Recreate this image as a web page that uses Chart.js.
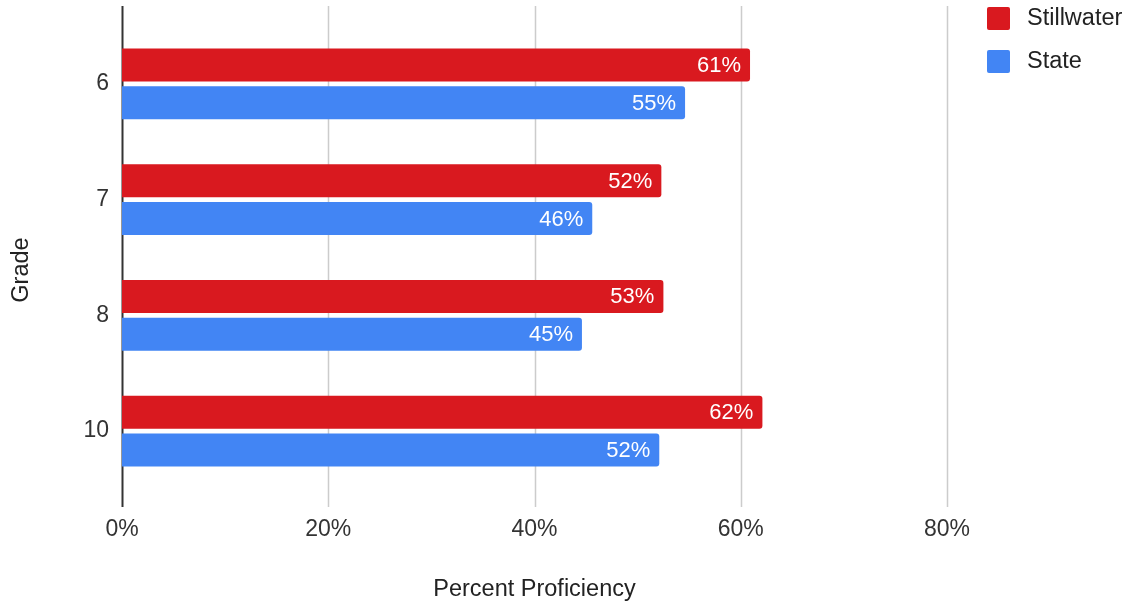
<!DOCTYPE html>
<html>
<head>
<meta charset="utf-8">
<script src="https://cdn.jsdelivr.net/npm/chart.js@4"></script>
<style>
  html, body { margin: 0; padding: 0; background: #fff; }
  #wrap { width: 1133px; height: 606px; }
</style>
</head>
<body>
<div id="wrap"><canvas id="gradeChart"></canvas></div>
<script>
const grades = ["6", "7", "8", "10"];
const stillwater = [60.9, 52.3, 52.5, 62.1];
const state = [54.6, 45.6, 44.6, 52.1];
const xTicks = [0, 20, 40, 60, 80];

const FONT = "'Liberation Sans', Arial, sans-serif";

// grid lines run a bit past the bars, like the original
const gridPlugin = {
    id: "gridPlugin",
    beforeDatasetsDraw(chart){
        const ctx = chart.ctx;
        const x = chart.scales.x;
        const area = chart.chartArea;
        ctx.save();
        xTicks.forEach(t => {
            const px = Math.round(x.getPixelForValue(t)) + 0.5;
            ctx.beginPath();
            ctx.lineWidth = t === 0 ? 2 : 1.5;
            ctx.strokeStyle = t === 0 ? "#333333" : "#cccccc";
            ctx.moveTo(px, area.top - 20);
            ctx.lineTo(px, area.bottom + 18);
            ctx.stroke();
        });
        ctx.restore();
    }
};

const valueLabels = {
    id: "valueLabels",
    afterDatasetsDraw(chart){
        const ctx = chart.ctx;
        ctx.save();
        ctx.font = "22px " + FONT;
        ctx.fillStyle = "#ffffff";
        ctx.textAlign = "right";
        ctx.textBaseline = "middle";
        chart.data.datasets.forEach((ds, i) => {
            chart.getDatasetMeta(i).data.forEach((bar, j) => {
                ctx.fillText(Math.round(ds.data[j]) + "%", bar.x - 9, bar.y + 1);
            });
        });
        ctx.restore();
    }
};

// legend on the right and the "Grade" title, placed by hand
const sideText = {
    id: "sideText",
    afterDraw(chart){
        const ctx = chart.ctx;
        ctx.save();
        ctx.font = "23.5px " + FONT;
        ctx.textBaseline = "middle";
        chart.data.datasets.forEach((ds, i) => {
            const top = 7 + i * 43;
            ctx.fillStyle = ds.backgroundColor;
            ctx.beginPath();
            ctx.roundRect(987, top, 23, 23, 2);
            ctx.fill();
            ctx.fillStyle = "#222222";
            ctx.fillText(ds.label, 1027, top + 12);
        });

        ctx.translate(22, 270);
        ctx.rotate(-Math.PI / 2);
        ctx.textAlign = "center";
        ctx.fillStyle = "#222222";
        ctx.fillText("Grade", 0, 0);
        ctx.restore();
    }
};

new Chart(document.getElementById("gradeChart"), {
    type: "bar",
    data: {
        labels: grades,
        datasets: [
            {
                label: "Stillwater",
                data: stillwater,
                backgroundColor: "#d9191f",
                borderRadius: 3,
                borderSkipped: "start",
                categoryPercentage: 0.655,
                barPercentage: 0.87
            },
            {
                label: "State",
                data: state,
                backgroundColor: "#4285f4",
                borderRadius: 3,
                borderSkipped: "start",
                categoryPercentage: 0.655,
                barPercentage: 0.87
            }
        ]
    },
    options: {
        indexAxis: "y",
        responsive: true,
        maintainAspectRatio: false,
        animation: false,
        layout: { padding: { top: 26, right: 186, left: 0, bottom: 0 } },
        plugins: {
            legend: { display: false },
            tooltip: { enabled: false }
        },
        scales: {
            x: {
                min: 0,
                max: 80,
                afterBuildTicks: s => { s.ticks = xTicks.map(v => ({ value: v })); },
                afterFit: s => { s.height = 117; },
                grid: { display: false },
                border: { display: false },
                ticks: {
                    padding: 19,
                    color: "#333333",
                    font: { family: FONT, size: 23 },
                    callback: v => v + "%"
                },
                title: {
                    display: true,
                    text: "Percent Proficiency",
                    color: "#222222",
                    font: { family: FONT, size: 23.5 },
                    padding: { top: 0, bottom: 2 }
                }
            },
            y: {
                afterFit: s => { s.width = 122; },
                grid: { display: false },
                border: { display: false },
                ticks: {
                    padding: 5,
                    color: "#333333",
                    font: { family: FONT, size: 23 }
                }
            }
        }
    },
    plugins: [gridPlugin, valueLabels, sideText]
});
</script>
</body>
</html>
